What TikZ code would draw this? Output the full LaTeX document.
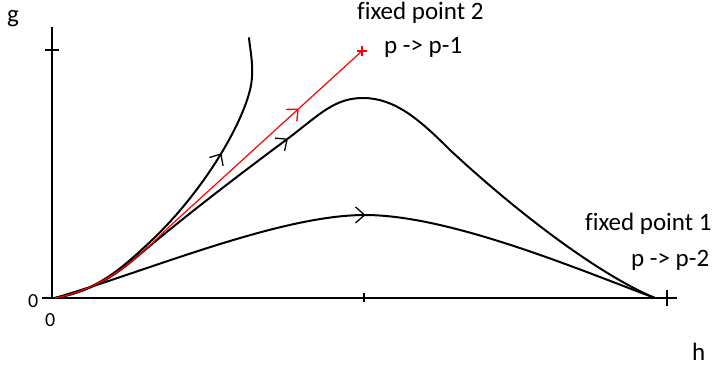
\documentclass[tikz,border=0pt]{standalone}
\usepackage{fontspec}
\setmainfont{Carlito}[Ligatures=CommonOff]
\usetikzlibrary{arrows.meta,decorations.markings}

\begin{document}
\begin{tikzpicture}[x=1pt,y=-1pt,
  curve/.style={line width=2pt,line cap=round},
  axis/.style={line width=1.4pt},
  flow/.style={postaction={decorate},decoration={markings,
    mark=at position #1 with {\arrow{Straight Barb[length=9pt,width=16pt,line width=1.3pt]}}}},
  lbl/.style={anchor=base west,inner sep=0pt,font=\fontsize{25}{30}\selectfont},
  zero/.style={anchor=base west,inner sep=0pt,font=\fontsize{20}{24}\selectfont}]
\useasboundingbox (0,0) rectangle (716,370);
\coordinate (O) at (55,298);
\coordinate (fp1) at (655,298);
\coordinate (fp2) at (362,51);
% axes
\draw[axis] (52,299) -- (52,27);
\draw[axis] (42,298) -- (677,298);
\draw[axis] (45,50) -- (59,50);
\draw[line width=2.5pt] (364,293) -- (364,302);
\draw[axis] (667,290) -- (667,306);
% trajectories
\draw[curve,flow=0.65] (O) .. controls (100,290) and (125,265) .. (150,242)
  .. controls (200,195) and (240,130) .. (250,90) .. controls (255,70) and (250,50) .. (249,38);
\draw[curve,flow=0.39] (O) .. controls (100,290) and (125,267) .. (145,250)
  .. controls (195,208) and (255,163) .. (290,137) .. controls (320,114) and (335,98) .. (363,98)
  .. controls (395,98) and (420,120) .. (450,150) .. controls (520,215) and (600,275) .. (fp1);
\draw[curve,flow=0.516] (O) .. controls (150,270) and (280,215) .. (365,215)
  .. controls (450,215) and (580,270) .. (fp1);
\draw[red,line width=1.2pt,flow=0.785] (O) .. controls (110,287) and (140,255) .. (170,226) -- (fp2);
\draw[red,line width=1.3pt] ([xshift=-5pt]fp2) -- ([xshift=5pt]fp2)
  ([yshift=-5pt]fp2) -- ([yshift=5pt]fp2);
% labels
\node[lbl] (g) at (7,22) {g};
\node[lbl] (h) at (692,360) {h};
\node[zero] (zy) at (28,307) {0};
\node[zero] (zx) at (45,326) {0};
\node[lbl] (fp2a) at (357,19) {fixed point 2};
\node[lbl] (fp2b) at (384,53) {p -> p-1};
\node[lbl] (fp1a) at (585,230) {fixed point 1};
\node[lbl] (fp1b) at (631,266) {p -> p-2};
\end{tikzpicture}
\end{document}
